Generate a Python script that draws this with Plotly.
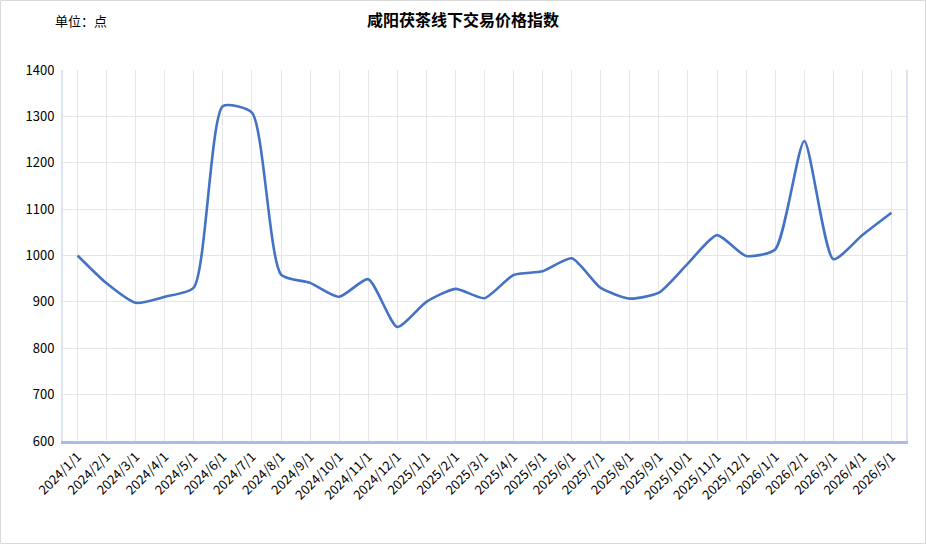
import plotly.graph_objects as go

categories = ["2024/1/1", "2024/2/1", "2024/3/1", "2024/4/1", "2024/5/1", "2024/6/1",
              "2024/7/1", "2024/8/1", "2024/9/1", "2024/10/1", "2024/11/1", "2024/12/1",
              "2025/1/1", "2025/2/1", "2025/3/1", "2025/4/1", "2025/5/1", "2025/6/1",
              "2025/7/1", "2025/8/1", "2025/9/1", "2025/10/1", "2025/11/1", "2025/12/1",
              "2026/1/1", "2026/2/1", "2026/3/1", "2026/4/1", "2026/5/1"]
values = [1000, 940, 898, 911, 931, 1322, 1308, 959, 941, 911, 949, 846,
          900, 928, 908, 958, 966, 994, 930, 907, 920, 983, 1044, 999,
          1013, 1247, 992, 1044, 1092]
y_ticks = [600, 700, 800, 900, 1000, 1100, 1200, 1300, 1400]

FONT = "Noto Sans CJK SC"

fig = go.Figure()
fig.add_trace(go.Scatter(
    x=categories, y=values, mode="lines",
    line=dict(color="#4472C4", width=2.6, shape="spline", smoothing=0.6),
    hoverinfo="x+y", showlegend=False,
))

fig.update_layout(
    width=926, height=544,
    margin=dict(l=63, r=20, t=70, b=103),
    paper_bgcolor="white", plot_bgcolor="white",
    font=dict(family=FONT, size=12, color="#000"),
    title=dict(text="<b>咸阳茯茶线下交易价格指数</b>", x=0.5, xanchor="center",
               y=1 - 20 / 544, yanchor="middle",
               font=dict(family=FONT, size=16, color="#000")),
    annotations=[dict(text="单位：点", xref="paper", yref="paper",
                      x=18 / 843, y=1 + 50 / 371, xanchor="center", yanchor="middle",
                      showarrow=False, font=dict(family=FONT, size=13, color="#000"))],
    shapes=[dict(type="rect", xref="paper", yref="paper",
                 x0=-62.5 / 843, x1=1 + 19.5 / 843, y0=-102.5 / 371, y1=1 + 69.5 / 371,
                 line=dict(color="#d9d9d9", width=1), layer="below")],
    xaxis=dict(
        type="category", tickangle=-45, showgrid=True, gridcolor="#e6e6e6", gridwidth=1,
        showline=True, linecolor="#a9bbe6", linewidth=3, ticks="",
        tickfont=dict(family=FONT, size=13, color="#000"),
        range=[-0.5, len(categories) - 0.5], fixedrange=True,
    ),
    yaxis=dict(
        range=[600, 1400], tickvals=y_ticks, showgrid=True, gridcolor="#e6e6e6",
        gridwidth=1, showline=True, linecolor="#dbe3f5", linewidth=2, mirror=True,
        zeroline=False, ticks="", ticklen=0, ticklabelstandoff=4,
        tickfont=dict(family=FONT, size=13, color="#000"),
    ),
)

fig.write_html("out.html")
